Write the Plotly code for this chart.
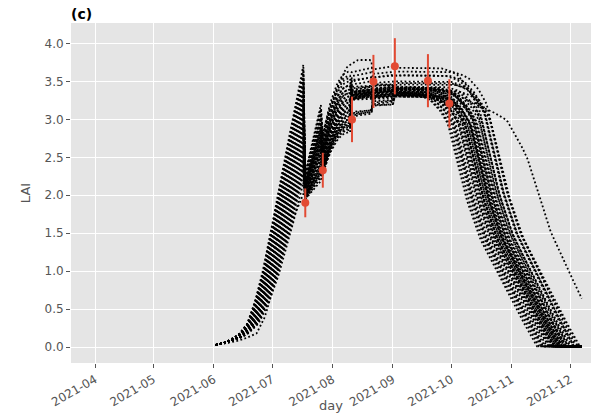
import numpy as np
import pandas as pd
import plotly.graph_objects as go

# ---- observations (LAI with 10 % uncertainty) ----
obs_dates = ["2021-07-18", "2021-07-27", "2021-08-11", "2021-08-22",
             "2021-09-02", "2021-09-19", "2021-09-30"]
obs_lai = [1.90, 2.33, 3.00, 3.50, 3.70, 3.51, 3.21]
obs_err = [0.19, 0.23, 0.30, 0.35, 0.37, 0.35, 0.32]

# ---- ensemble members (one entry per member) ----
# relative development rate during free growth (before first update)
rate = [1.000, 0.993, 0.987, 0.980, 0.974, 0.967, 0.961, 0.954, 0.948, 0.941,
        0.935, 0.928, 0.922, 0.915, 0.909, 0.902, 0.896, 0.889, 0.883, 0.876,
        0.870, 0.863, 0.857, 0.850, 0.844, 0.837, 0.831, 0.824, 0.818, 0.811,
        0.805, 0.798, 0.792, 0.785, 0.779, 0.772, 0.766, 0.759, 0.752, 0.735]
# analysed LAI after each update
lai_jul18 = [2.29, 2.25, 2.27, 2.22, 2.24, 2.20, 2.21, 2.17, 2.19, 2.15,
             2.16, 2.13, 2.14, 2.11, 2.12, 2.09, 2.10, 2.08, 2.06, 2.07,
             2.05, 2.06, 2.03, 2.04, 2.02, 2.03, 2.01, 2.00, 2.02, 1.99,
             2.00, 1.98, 1.99, 1.97, 1.98, 1.96, 1.97, 1.96, 1.95, 1.95]
lai_jul27 = [2.78, 2.70, 2.74, 2.62, 2.68, 2.58, 2.64, 2.55, 2.60, 2.52,
             2.57, 2.50, 2.54, 2.47, 2.51, 2.45, 2.49, 2.43, 2.47, 2.41,
             2.45, 2.40, 2.43, 2.38, 2.42, 2.37, 2.40, 2.35, 2.39, 2.34,
             2.37, 2.33, 2.36, 2.32, 2.34, 2.31, 2.33, 2.30, 2.29, 2.28]
lai_aug11 = [3.62, 3.31, 3.50, 3.27, 3.38, 3.05, 3.34, 3.28, 3.57, 3.33,
             3.36, 3.26, 3.08, 3.35, 3.30, 3.46, 3.32, 3.28, 3.39, 3.31,
             3.04, 3.36, 3.27, 3.33, 3.41, 3.30, 3.52, 3.29, 3.35, 3.07,
             3.32, 3.37, 3.27, 3.34, 3.10, 3.30, 3.36, 3.29, 3.43, 3.26]
lai_aug22 = [3.66, 3.35, 3.55, 3.30, 3.40, 3.31, 3.37, 3.20, 3.60, 3.34,
             3.39, 3.28, 3.33, 3.38, 3.22, 3.48, 3.35, 3.30, 3.41, 3.18,
             3.29, 3.38, 3.31, 3.36, 3.44, 3.24, 3.56, 3.32, 3.37, 3.31,
             3.35, 3.40, 3.29, 3.36, 3.30, 3.33, 3.38, 3.19, 3.46, 3.28]
lai_sep02 = [3.68, 3.37, 3.58, 3.33, 3.42, 3.34, 3.39, 3.31, 3.63, 3.36,
             3.41, 3.31, 3.35, 3.40, 3.33, 3.50, 3.37, 3.32, 3.43, 3.30,
             3.33, 3.40, 3.32, 3.38, 3.46, 3.34, 3.58, 3.35, 3.39, 3.33,
             3.36, 3.42, 3.31, 3.38, 3.32, 3.35, 3.40, 3.30, 3.48, 3.31]
# delay of senescence (days)
senescence_delay = [14, 3, 18, 9, 12, 0, 16, 6, 20, 11,
                    7, 15, 2, 13, 10, 19, 5, 12, 17, 8,
                    1, 14, 9, 11, 21, 4, 16, 10, 13, 6,
                    15, 8, 12, 22, 3, 11, 17, 7, 19, 9]

# free growth curve of the fastest member (days after emergence, LAI)
growth_days = [0, 4, 8, 12, 16, 19, 22.8, 27.9, 33.0, 38.1, 42.4, 45.0]
growth_lai = [0.03, 0.05, 0.10, 0.17, 0.30, 0.50, 0.84, 1.45, 2.16, 2.82, 3.34, 3.72]

# senescence curve (days after 1 April, fraction of plateau LAI)
decline_days = [154, 163, 168, 172, 177, 181.3, 185.9, 190.9, 197.7, 206.3,
                214.8, 220.8, 226.9, 260]
decline_frac = [1.000, 1.000, 0.990, 0.975, 0.935, 0.880, 0.735, 0.582, 0.429,
                0.300, 0.171, 0.088, 0.003, 0.0]

# member that is not updated until late August
stray_days = [62, 70, 76, 83.0, 87.3, 92.4, 97.6, 102.7, 107.8, 111.4, 114.7,
              118.1, 122.4, 125.8, 129.3, 134.4, 140.4, 142.0]
stray_lai = [0.03, 0.06, 0.10, 0.18, 0.40, 0.84, 1.33, 1.75, 2.05, 2.33, 2.62,
             2.95, 3.28, 3.50, 3.69, 3.78, 3.79, 3.77]

# member with a slow late senescence
late_days = [154, 170, 182, 194.1, 202.9, 211.5, 216.6, 221.7, 226.9, 233.7,
             240.5, 250]
late_lai = [3.40, 3.42, 3.37, 3.21, 3.12, 2.99, 2.77, 2.51, 2.11, 1.54, 1.15, 0.64]

tick_dates = ["2021-04-01", "2021-05-01", "2021-06-01", "2021-07-01", "2021-08-01",
              "2021-09-01", "2021-10-01", "2021-11-01", "2021-12-01"]
tick_labels = ["2021-04", "2021-05", "2021-06", "2021-07", "2021-08",
               "2021-09", "2021-10", "2021-11", "2021-12"]

# ---- build daily trajectories ----
base = pd.Timestamp("2021-04-01")
days = np.arange(62, 251)
dates = base + pd.to_timedelta(days, unit="D")
upd = [(pd.Timestamp(d) - base).days for d in obs_dates]


def trajectory(r, a1, a2, a3, a4, a5, delay, late=None):
    out = np.empty(len(days))
    q = (r - 0.735) / 0.265
    for k, d in enumerate(days):
        if d < upd[0]:
            v = np.interp((d - days[0]) * r, growth_days, growth_lai)
        elif d < upd[1]:
            u = (d - upd[0]) / (upd[1] - 1 - upd[0])
            v = a1 + 2.5 * (r - 0.64) * u
        elif d < upd[2]:
            u = (d - upd[1]) / (upd[2] - 1 - upd[1])
            v = a2 + (0.55 + 0.30 * q) * (1 - (1 - u) ** 2.2)
        elif d < upd[3]:
            u = (d - upd[2]) / (upd[3] - 1 - upd[2])
            v = a3 + (0.01 + 0.05 * q) * u
        elif d < upd[4]:
            u = (d - upd[3]) / (upd[4] - 1 - upd[3])
            v = a4 + (0.00 + 0.04 * q) * u
        elif late is None:
            v = a5 * np.interp(d - delay, decline_days, decline_frac)
        else:
            v = np.interp(d, late[0], late[1])
        out[k] = max(v, 0.0)
    return out


members = []
for i in range(len(rate)):
    members.append(trajectory(rate[i], lai_jul18[i], lai_jul27[i], lai_aug11[i],
                              lai_aug22[i], lai_sep02[i], senescence_delay[i]))
# slow-senescence member
members.append(trajectory(rate[20], lai_jul18[20], lai_jul27[20], lai_aug11[23],
                          lai_aug22[23], lai_sep02[23], 0, late=(late_days, late_lai)))
# stray member
stray = trajectory(rate[-1], lai_jul18[-1], lai_jul27[-1], lai_aug11[-1],
                   3.45, 3.42, 13)
stray_mask = days <= stray_days[-1]
stray[stray_mask] = np.interp(days[stray_mask], stray_days, stray_lai)
members.append(stray)

fig = go.Figure()
line_style = dict(color="black", width=1.8, dash="1.8px,2.4px")
for m in members:
    fig.add_trace(go.Scatter(x=dates, y=m, mode="lines", line=line_style,
                             hoverinfo="skip", showlegend=False))

fig.add_trace(go.Scatter(
    x=pd.to_datetime(obs_dates), y=obs_lai, mode="markers",
    marker=dict(color="#E24A33", size=8),
    error_y=dict(type="data", array=obs_err, color="#E24A33", thickness=2, width=0),
    showlegend=False))

x_start = base + pd.Timedelta(days=-12.33)
x_end = base + pd.Timedelta(days=254.75)

fig.update_layout(
    width=591, height=413,
    margin=dict(l=71, r=0, t=23, b=50, autoexpand=False),
    paper_bgcolor="white", plot_bgcolor="#E5E5E5",
    showlegend=False,
    font=dict(family="DejaVu Sans", color="#555555"),
    title=dict(text="<b>(c)</b>", x=71 / 591, xanchor="left", xref="container",
               y=1 - 14.5 / 413, yanchor="middle", yref="container",
               font=dict(size=14, color="black", family="DejaVu Sans")),
)
fig.update_xaxes(
    range=[x_start, x_end], tickvals=pd.to_datetime(tick_dates), ticktext=tick_labels,
    tickangle=-30, showgrid=True, gridcolor="white", gridwidth=1.2,
    ticks="outside", ticklen=4, tickcolor="#555555",
    tickfont=dict(size=12, color="#555555"), automargin=False,
    title=dict(text="day", font=dict(size=13, color="#555555"), standoff=4),
    zeroline=False, showline=False)
fig.update_yaxes(
    range=[-0.21, 4.27], dtick=0.5, tick0=0, tickformat=".1f",
    showgrid=True, gridcolor="white", gridwidth=1.2,
    ticks="outside", ticklen=4, tickcolor="#555555",
    tickfont=dict(size=12, color="#555555"), automargin=False,
    title=dict(text="LAI", font=dict(size=13, color="#555555"), standoff=10),
    zeroline=False, showline=False)

fig.write_html("out.html", config={"displayModeBar": False})
